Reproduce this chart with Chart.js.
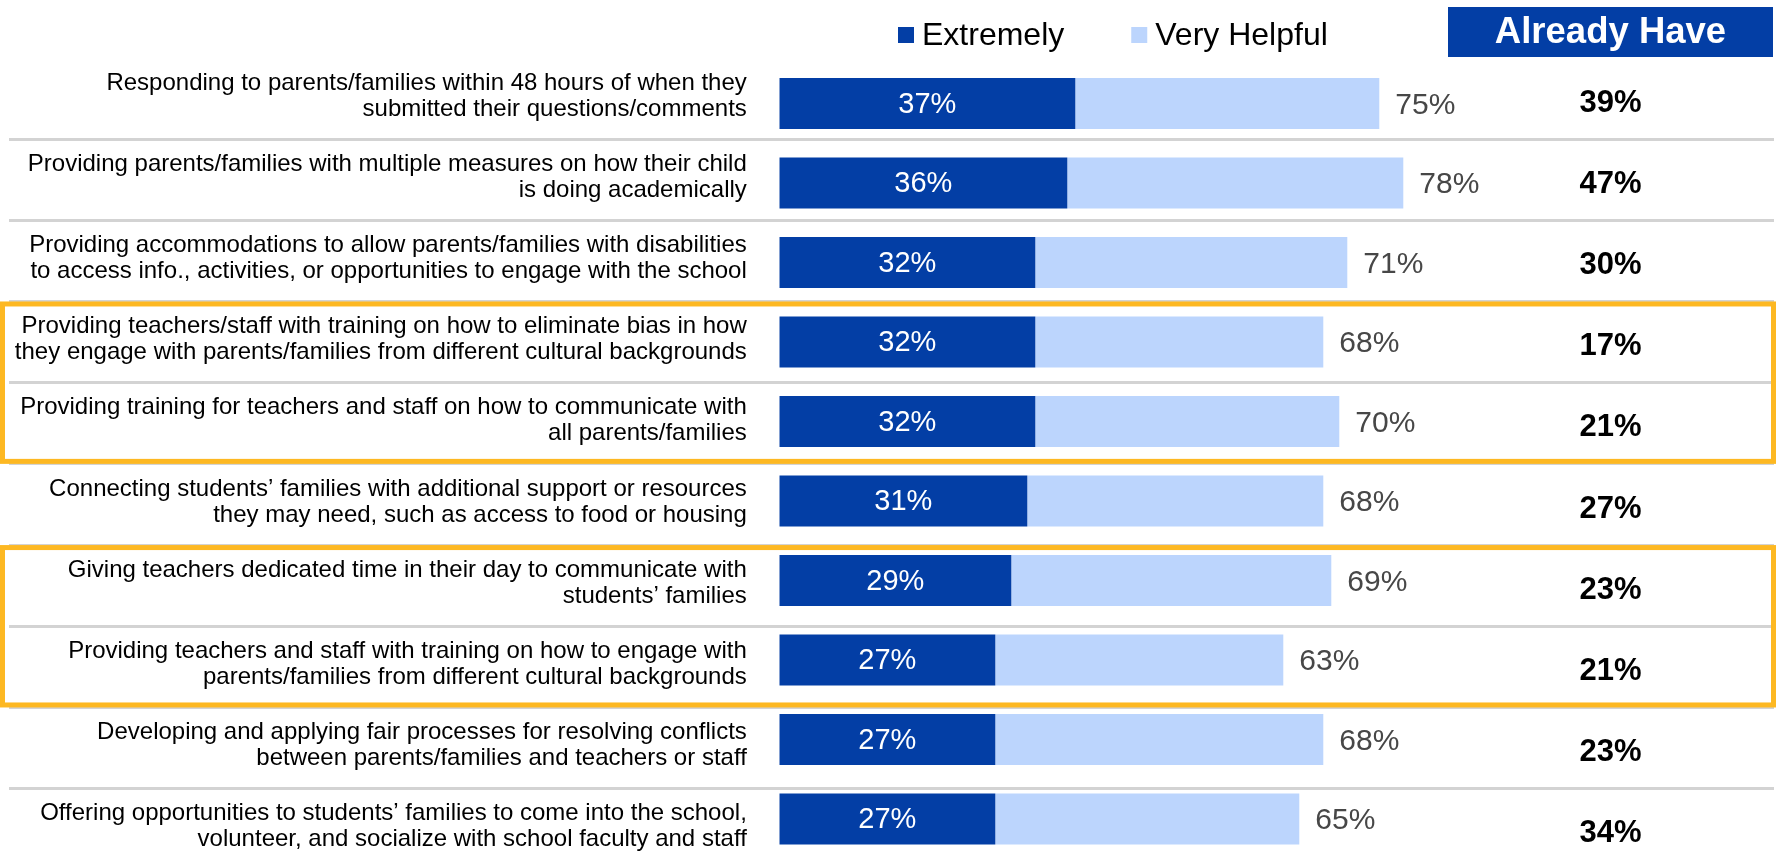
<!DOCTYPE html>
<html>
<head>
<meta charset="utf-8">
<script src="https://cdn.jsdelivr.net/npm/chart.js@4.4.1/dist/chart.umd.min.js"></script>
<style>
  html, body { margin: 0; padding: 0; background: #fff; overflow: hidden; }
  #wrap { position: relative; width: 1779px; height: 870px; }
</style>
</head>
<body>
<div id="wrap"><canvas id="chart"></canvas></div>
<script>
// ---- data ----
const categories = [
  ['Responding to parents/families within 48 hours of when they', 'submitted their questions/comments'],
  ['Providing parents/families with multiple measures on how their child', 'is doing academically'],
  ['Providing accommodations to allow parents/families with disabilities', 'to access info., activities, or opportunities to engage with the school'],
  ['Providing teachers/staff with training on how to eliminate bias in how', 'they engage with parents/families from different cultural backgrounds'],
  ['Providing training for teachers and staff on how to communicate with', 'all parents/families'],
  ['Connecting students\u2019 families with additional support or resources', 'they may need, such as access to food or housing'],
  ['Giving teachers dedicated time in their day to communicate with', 'students\u2019 families'],
  ['Providing teachers and staff with training on how to engage with', 'parents/families from different cultural backgrounds'],
  ['Developing and applying fair processes for resolving conflicts', 'between parents/families and teachers or staff'],
  ['Offering opportunities to students\u2019 families to come into the school,', 'volunteer, and socialize with school faculty and staff']
];
const extremely    = [37, 36, 32, 32, 32, 31, 29, 27, 27, 27];
const totalHelpful = [75, 78, 71, 68, 70, 68, 69, 63, 68, 65];
const alreadyHave  = [39, 47, 30, 17, 21, 27, 23, 21, 23, 34];
const seriesNames  = ['Extremely', 'Very Helpful'];
const highlightGroups = [[3, 4], [6, 7]];   // rows framed in gold
const columnTitle = 'Already Have';

const DARK = '#033ea5';
const LIGHT = '#bcd5fd';
const GOLD = '#fdb822';
const FONT = '"Liberation Sans", Arial, sans-serif';

const veryHelpful = totalHelpful.map((t, i) => t - extremely[i]);

// background rules + gold frames, then the text bits
const tablePlugin = {
  id: 'tablePlugin',
  beforeDraw(chart) {
    const ctx = chart.ctx;
    const y2 = chart.scales.y2;
    ctx.save();
    ctx.strokeStyle = '#d3d3d3';
    ctx.lineWidth = 3;
    for (let k = 0; k < categories.length - 1; k++) {
      const y = Math.round(y2.getPixelForValue(k + 0.5) + 2) + 0.5;
      ctx.beginPath();
      ctx.moveTo(9, y);
      ctx.lineTo(1774, y);
      ctx.stroke();
    }
    ctx.strokeStyle = GOLD;
    ctx.lineWidth = 5;
    highlightGroups.forEach(g => {
      const top = y2.getPixelForValue(g[0] - 0.5) + 5;
      const bottom = y2.getPixelForValue(g[g.length - 1] + 0.5);
      ctx.strokeRect(2.5, top, 1771, bottom - top);
    });
    ctx.restore();
  },
  afterDatasetsDraw(chart) {
    const ctx = chart.ctx;
    const y2 = chart.scales.y2;
    const m0 = chart.getDatasetMeta(0).data;
    const m1 = chart.getDatasetMeta(1).data;
    ctx.save();
    ctx.textBaseline = 'middle';

    // values inside dark segment
    ctx.font = '29px ' + FONT;
    ctx.fillStyle = '#fff';
    ctx.textAlign = 'center';
    m0.forEach((bar, i) => {
      ctx.fillText(extremely[i] + '%', (bar.x + bar.base) / 2, bar.y + 1);
    });

    // total (extremely + very) right of the bar
    ctx.font = '30px ' + FONT;
    ctx.fillStyle = '#474747';
    ctx.textAlign = 'left';
    m1.forEach((bar, i) => {
      ctx.fillText(totalHelpful[i] + '%', bar.x + 16, bar.y + 2);
    });

    // already have column
    const colX = 1610.5;
    ctx.font = 'bold 31px ' + FONT;
    ctx.fillStyle = '#000';
    ctx.textAlign = 'center';
    alreadyHave.forEach((v, i) => {
      ctx.fillText(v + '%', colX, y2.getPixelForValue(i) + 7);
    });

    // header box
    ctx.fillStyle = DARK;
    ctx.fillRect(1448, 7, 325, 50);
    ctx.fillStyle = '#fff';
    ctx.font = 'bold 36.5px ' + FONT;
    ctx.fillText(columnTitle, colX, 33);

    // legend
    ctx.font = '32px ' + FONT;
    ctx.textAlign = 'left';
    let lx = 898;
    chart.data.datasets.forEach(ds => {
      ctx.fillStyle = ds.backgroundColor;
      ctx.fillRect(lx, 27, 16, 16);
      ctx.fillStyle = '#000';
      ctx.fillText(ds.label, lx + 24, 36);
      lx += 24 + ctx.measureText(ds.label).width + 67;
    });
    ctx.restore();
  }
};

new Chart(document.getElementById('chart'), {
  type: 'bar',
  data: {
    labels: categories,
    datasets: [
      { label: seriesNames[0], data: extremely, backgroundColor: DARK },
      { label: seriesNames[1], data: veryHelpful, backgroundColor: LIGHT }
    ]
  },
  options: {
    indexAxis: 'y',
    responsive: true,
    maintainAspectRatio: false,
    animation: false,
    layout: { padding: { top: 63.75, bottom: 11.25, left: 0, right: 199.7 } },
    datasets: { bar: { categoryPercentage: 1, barPercentage: 0.642, borderWidth: 0 } },
    scales: {
      x: { stacked: true, min: 0, max: 100, display: false },
      y: { stacked: true, display: false },
      // label column: rows of the side table, a bit taller than the bar rows
      y2: {
        type: 'linear',
        position: 'left',
        reverse: true,
        offset: false,
        bounds: 'data',
        min: -0.397,
        max: 9.394,
        grid: { display: false, drawTicks: false, offset: false },
        border: { display: false },
        afterBuildTicks: (scale) => { scale.ticks = categories.map((_, i) => ({ value: i })); },
        afterFit: (scale) => {
          scale.width = 779.3;
          scale.paddingTop = 0;
          scale.paddingBottom = 0;
        },
        ticks: {
          autoSkip: false,
          padding: 32.5,
          color: '#000',
          font: { family: FONT, size: 24, lineHeight: 1.083 },
          callback: (v) => categories[v]
        }
      }
    },
    plugins: {
      legend: { display: false },
      tooltip: { enabled: false }
    }
  },
  plugins: [tablePlugin]
});
</script>
</body>
</html>
